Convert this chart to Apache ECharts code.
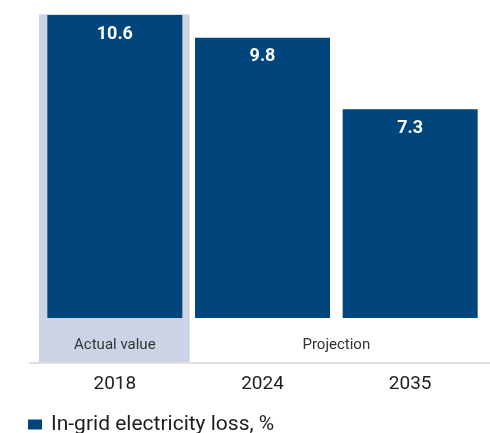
<!DOCTYPE html>
<html>
<head>
<meta charset="utf-8">
<script src="https://cdn.jsdelivr.net/npm/echarts@6/dist/echarts.min.js"></script>
<style>
  html, body { margin: 0; padding: 0; background: #fff; }
  #chart { width: 490px; height: 433px; }
</style>
</head>
<body>
<div id="chart"></div>
<script>
// Grid electricity losses: actual 2018 value and projections
const years = ['2018', '2024', '2035'];
const lossValues = [10.6, 9.8, 7.3];
const seriesName = 'In-grid electricity loss, %';
const actualLabel = 'Actual value';
const projectionLabel = 'Projection';

const BAR_COLOR = '#00457b';
const SHADE_COLOR = '#cbd3e5';
const FONT = 'Roboto, "Noto Sans", sans-serif';

const yMin = -1.54;
const yMax = 10.6;

const chart = echarts.init(document.getElementById('chart'), null, { renderer: 'canvas' });

chart.setOption({
  animation: false,
  grid: { left: 41, right: 6, top: 15, bottom: 71, containLabel: false },
  xAxis: {
    type: 'category',
    data: years,
    axisLine: { show: false },
    axisTick: { show: false },
    axisLabel: { fontFamily: FONT, fontSize: 19, color: '#1e1e1e', margin: 13 }
  },
  yAxis: {
    type: 'value',
    min: yMin,
    max: yMax,
    show: false,
    splitLine: { show: false }
  },
  legend: {
    data: [{ name: seriesName, icon: 'rect' }],
    left: 23,
    top: 409,
    itemWidth: 14,
    itemHeight: 10,
    textStyle: { fontFamily: FONT, fontSize: 21, color: '#1e1e1e', padding: [0, 0, 0, 4] }
  },
  series: [
    {
      // shaded band behind the actual (2018) column, with period captions and baseline
      type: 'custom',
      silent: true,
      z: 1,
      data: [0],
      renderItem: function (params, api) {
        const cs = params.coordSys;
        const band = api.size([1, 0])[0];
        const c0 = api.coord([0, yMin]);
        const top = api.coord([0, 10.63])[1];
        const c1 = api.coord([1, yMin]);
        const c2 = api.coord([2, yMin]);
        const capY = api.coord([0, -0.95])[1];
        const baseY = cs.y + cs.height;
        return {
          type: 'group',
          children: [
            {
              type: 'rect',
              shape: { x: c0[0] - band / 2 - 2, y: top, width: band + 3, height: baseY - top },
              style: { fill: SHADE_COLOR }
            },
            {
              type: 'line',
              shape: { x1: cs.x - 12, y1: baseY + 1, x2: cs.x + cs.width + 6, y2: baseY + 1 },
              style: { stroke: '#e0e0e0', lineWidth: 2 }
            },
            {
              type: 'text',
              style: {
                x: c0[0], y: capY, text: actualLabel,
                fontFamily: FONT, fontSize: 15, fill: '#333333',
                align: 'center', verticalAlign: 'middle'
              }
            },
            {
              type: 'text',
              style: {
                x: (c1[0] + c2[0]) / 2, y: capY, text: projectionLabel,
                fontFamily: FONT, fontSize: 15, fill: '#333333',
                align: 'center', verticalAlign: 'middle'
              }
            }
          ]
        };
      }
    },
    {
      name: seriesName,
      type: 'bar',
      z: 2,
      data: lossValues,
      barWidth: 135,
      itemStyle: { color: BAR_COLOR },
      label: {
        show: true,
        position: 'insideTop',
        distance: 10,
        fontFamily: FONT,
        fontSize: 18,
        fontWeight: 'bold',
        color: '#ffffff'
      }
    }
  ]
});
</script>
</body>
</html>
